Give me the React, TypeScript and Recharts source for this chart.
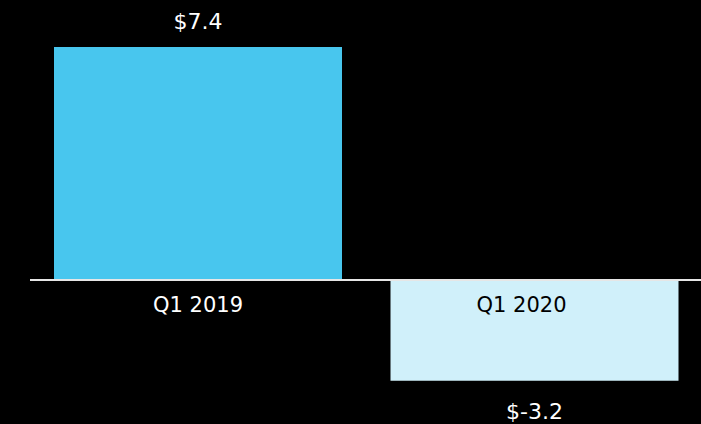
import React from 'react'
import { Bar, BarChart, Cell, LabelList, ReferenceLine, XAxis, YAxis } from 'recharts'

const quarters = ['Q1 2019', 'Q1 2020']
const values = [7.4, -3.2]
const barColors = ['#48C6EE', '#D0F0FA']
const labelColors = ['#FFFFFF', '#000000']

const data = quarters.map((quarter, i) => ({ quarter, value: values[i] }))

const FONT = '"DejaVu Sans", "Open Sans", sans-serif'

function ValueLabel(props: any) {
  const { x, y, width, height, value } = props
  const top = Math.min(y, y + height)
  const bottom = Math.max(y, y + height)
  const cx = x + width / 2
  const ty = value >= 0 ? top - 25 : bottom + 31
  return (
    <text x={cx} y={ty} fill="#fff" fontSize={22} fontFamily={FONT} textAnchor="middle" dominantBaseline="central">
      {`$${value}`}
    </text>
  )
}

function QuarterLabel(props: any) {
  const { x, y, width, height, index } = props
  const v = values[index]
  const base = v >= 0 ? Math.max(y, y + height) : Math.min(y, y + height)
  const cx = x + width / 2 + (v >= 0 ? 0 : -13)
  return (
    <text x={cx} y={base + 25} fill={labelColors[index]} fontSize={21} fontFamily={FONT} textAnchor="middle" dominantBaseline="central">
      {quarters[index]}
    </text>
  )
}

export default function App() {
  return (
    <div style={{ position: 'absolute', left: 0, top: 0, width: 701, height: 424, background: '#000' }}>
      <BarChart width={701} height={424} data={data} margin={{ top: 28, right: -2, bottom: 18, left: 30 }} barSize={288}>
        <XAxis dataKey="quarter" hide />
        <YAxis domain={[-4, 8]} hide />
        <ReferenceLine y={0} stroke="#e6e6e6" strokeWidth={2} />
        <Bar dataKey="value" isAnimationActive={false}>
          {data.map((d, i) => (
            <Cell key={d.quarter} fill={barColors[i]} />
          ))}
          <LabelList dataKey="value" content={ValueLabel} />
          <LabelList dataKey="quarter" content={QuarterLabel} />
        </Bar>
      </BarChart>
    </div>
  )
}
